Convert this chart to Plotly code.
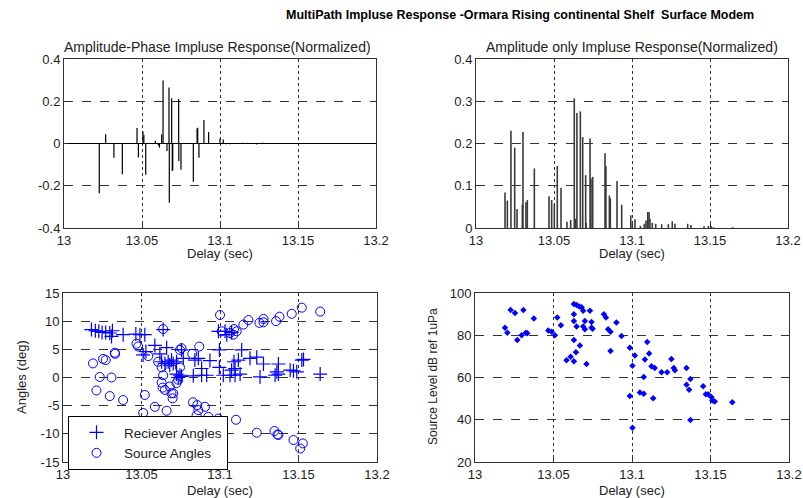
import plotly.graph_objects as go

# ---------------- data ----------------
ap_time = [13.0226, 13.0267, 13.0320, 13.0374, 13.0468, 13.0477, 13.0506, 13.0512, 13.0524,
           13.0585, 13.0605, 13.0612, 13.0626, 13.0635, 13.0660, 13.0673, 13.0675, 13.0690,
           13.0694, 13.0697, 13.0735, 13.0736, 13.0750, 13.0829, 13.0853, 13.0857, 13.0865,
           13.0897, 13.0927, 13.1000, 13.1021, 13.1040, 13.1064, 13.1145, 13.1175, 13.1235,
           13.1278, 13.1359, 13.1385, 13.1453]
ap_amp = [-0.235, 0.044, -0.068, -0.146, 0.073, -0.066, 0.057, 0.040, -0.148,
          0.013, -0.010, -0.020, 0.044, 0.298, -0.035, 0.265, -0.281, 0.214,
          -0.130, -0.125, 0.211, -0.083, -0.124, -0.181, 0.071, 0.074, -0.067,
          0.111, 0.054, 0.024, 0.019, -0.003, -0.004, 0.003, 0.003, -0.005,
          0.004, -0.002, 0.002, 0.002]

ao_time = [13.0186, 13.0201, 13.0224, 13.0248, 13.0263, 13.0297, 13.0301, 13.0320, 13.0329,
           13.0374, 13.0468, 13.0485, 13.0502, 13.0521, 13.0545, 13.0583, 13.0607, 13.0630,
           13.0639, 13.0647, 13.0669, 13.0684, 13.0703, 13.0706, 13.0731, 13.0737, 13.0748,
           13.0827, 13.0833, 13.0855, 13.0861, 13.0904, 13.0934, 13.0992, 13.1002, 13.1019,
           13.1054, 13.1079, 13.1090, 13.1101, 13.1109, 13.1115, 13.1130, 13.1152, 13.1190,
           13.1233, 13.1258, 13.1275, 13.1357, 13.1378, 13.1462, 13.1490, 13.1507, 13.1522,
           13.1645]
ao_amp = [0.084, 0.065, 0.230, 0.190, 0.045, 0.055, 0.227, 0.061, 0.066,
          0.141, 0.075, 0.066, 0.057, 0.147, 0.095, 0.015, 0.019, 0.307,
          0.022, 0.272, 0.276, 0.215, 0.125, 0.012, 0.212, 0.117, 0.121,
          0.177, 0.146, 0.077, 0.070, 0.111, 0.055, 0.030, 0.012, 0.021,
          0.005, 0.010, 0.018, 0.038, 0.038, 0.022, 0.012, 0.010, 0.009,
          0.009, 0.016, 0.010, 0.010, 0.007, 0.004, 0.005, 0.005, 0.002,
          0.002]

rx_time = [13.0181, 13.0206, 13.0228, 13.0249, 13.0272, 13.0298, 13.0315, 13.0309, 13.0383,
           13.0464, 13.0490, 13.0521, 13.0528, 13.0510, 13.0585, 13.0617, 13.0660, 13.0638,
           13.0755, 13.0766, 13.0628, 13.0649, 13.0670, 13.0691, 13.0702, 13.0680, 13.0723,
           13.0723, 13.0745, 13.0755, 13.0734, 13.0840, 13.0862, 13.0936, 13.0883, 13.0830,
           13.0883, 13.0915, 13.0996, 13.0996, 13.0990, 13.1032, 13.1043, 13.1074, 13.1021,
           13.1064, 13.1096, 13.1128, 13.1074, 13.1096, 13.1089, 13.1117, 13.1138, 13.1191,
           13.1234, 13.1277, 13.1255, 13.1372, 13.1362, 13.1372, 13.1351, 13.1447, 13.1468,
           13.1489, 13.1521, 13.1532, 13.1638]
rx_angle = [8.5, 8.3, 8.2, 8.0, 8.0, 7.9, 8.3, 7.3, 7.6,
            7.7, 7.6, 7.6, 4.6, 4.0, 5.7, 4.2, 5.3, 8.5,
            4.9, 3.4, 2.8, 2.5, 2.8, 3.1, 2.5, 2.2, 2.8,
            0.6, 0.4, 0.2, 0.0, 3.1, 3.4, 3.0, 1.6, 0.3,
            0.4, 0.4, 4.9, 1.8, 8.2, 8.2, 7.6, 8.0, 0.4,
            0.4, 0.4, 0.6, 1.3, 1.6, 2.8, 3.1, 4.9, 3.4,
            3.6, 2.4, 0.1, 2.4, 1.0, 0.6, 0.4, 1.3, 1.2,
            1.0, 3.1, 3.2, 0.6]

src_time = [13.0191, 13.0234, 13.0309, 13.0255, 13.0272, 13.0330, 13.0332, 13.0213, 13.0298,
            13.0383, 13.0468, 13.0479, 13.0543, 13.0521, 13.0511, 13.0585, 13.0638, 13.0660,
            13.0606, 13.0628, 13.0638, 13.0628, 13.0634, 13.0649, 13.0680, 13.0691, 13.0698,
            13.0702, 13.0723, 13.0734, 13.0745, 13.0755, 13.0745, 13.0823, 13.0868, 13.0828,
            13.0855, 13.0862, 13.0904, 13.0851, 13.0926, 13.0989, 13.1000, 13.1011, 13.1064,
            13.1085, 13.1089, 13.1106, 13.1149, 13.1181, 13.1251, 13.1277, 13.1277, 13.1357,
            13.1379, 13.1457, 13.1521, 13.1638, 13.1102, 13.1234, 13.1347, 13.1366, 13.1372,
            13.1468, 13.1528, 13.1511]
src_angle = [2.5, 0.1, 0.0, 3.3, 3.1, 4.4, 4.2, -2.3, -3.3,
             -4.0, 6.0, 5.5, 3.8, -3.1, -6.3, -5.2, 8.6, -5.9,
             2.8, 1.8, 0.4, -0.9, -1.8, -2.2, -1.6, -2.8, -3.7,
             -2.8, -1.0, -0.4, 1.8, 5.2, 4.9, 4.2, 5.5, -4.4,
             -4.9, -5.8, -5.2, -6.7, -7.0, -7.3, 11.1, 8.2, 7.9,
             7.6, 8.6, 8.2, 9.4, 10.2, 9.7, 10.4, 9.8, 10.0,
             10.8, 11.3, 12.4, 11.7, -7.5, -9.8, -9.5, -10.1, -10.2,
             -11.1, -11.7, -12.6]

sl_time = [13.0191, 13.0206, 13.0227, 13.0255, 13.0269, 13.0297, 13.0308, 13.0324, 13.0333,
           13.0375, 13.0467, 13.0488, 13.0509, 13.0524, 13.0547, 13.0583, 13.0609, 13.0630,
           13.0647, 13.0664, 13.0679, 13.0689, 13.0630, 13.0630, 13.0647, 13.0630, 13.0643,
           13.0630, 13.0668, 13.0689, 13.0700, 13.0700, 13.0710, 13.0732, 13.0742, 13.0742,
           13.0749, 13.0821, 13.0834, 13.0848, 13.0863, 13.0863, 13.0901, 13.0933, 13.0986,
           13.1003, 13.1018, 13.0986, 13.1003, 13.1050, 13.1075, 13.1075, 13.1082, 13.1097,
           13.1109, 13.1124, 13.1145, 13.1135, 13.1188, 13.1224, 13.1251, 13.1266, 13.1273,
           13.1347, 13.1347, 13.1364, 13.1372, 13.1372, 13.1453, 13.1470, 13.1485, 13.1506,
           13.1512, 13.1527, 13.1639]
sl_level = [83.6, 81.2, 92.0, 90.5, 77.7, 80.0, 92.0, 81.2, 80.9,
            87.9, 82.3, 81.6, 80.0, 88.4, 84.7, 68.2, 69.8, 94.8,
            94.3, 93.6, 93.2, 91.6, 90.0, 86.8, 84.1, 77.7, 72.0,
            67.7, 75.2, 84.1, 82.8, 86.8, 66.4, 91.6, 86.3, 83.6,
            83.1, 90.0, 88.4, 82.8, 81.6, 72.5, 86.0, 79.6, 74.1,
            65.6, 70.4, 51.3, 36.2, 52.9, 52.3, 60.2, 68.5, 76.8,
            71.4, 65.3, 64.5, 50.2, 62.5, 62.5, 68.8, 64.5, 63.4,
            64.5, 56.6, 54.2, 59.3, 39.9, 55.8, 52.1, 52.1, 50.7,
            49.1, 48.6, 48.3]

x_tick_vals = [13.0, 13.05, 13.1, 13.15, 13.2]
x_tick_text = ["13", "13.05", "13.1", "13.15", "13.2"]
ap_tick_vals = [-0.4, -0.2, 0, 0.2, 0.4]
ap_tick_text = ["-0.4", "-0.2", "0", "0.2", "0.4"]
ao_tick_vals = [0, 0.1, 0.2, 0.3, 0.4]
ao_tick_text = ["0", "0.1", "0.2", "0.3", "0.4"]
ang_tick_vals = [-15, -10, -5, 0, 5, 10, 15]
ang_tick_text = ["-15", "-10", "-5", "0", "5", "10", "15"]
sl_tick_vals = [20, 40, 60, 80, 100]
sl_tick_text = ["20", "40", "60", "80", "100"]

main_title = "MultiPath Impluse Response -Ormara Rising continental Shelf  Surface Modem"
ap_title = "Amplitude-Phase Impluse Response(Normalized)"
ao_title = "Amplitude only Impluse Response(Normalized)"


def stems(ts, vs):
    xs, ys = [], []
    for t, v in zip(ts, vs):
        xs += [t, t, None]
        ys += [0, v, None]
    return xs, ys


fig = go.Figure()

sx, sy = stems(ap_time, ap_amp)
fig.add_trace(go.Scatter(x=sx, y=sy, mode="lines", line=dict(color="black", width=1.2),
                         showlegend=False, xaxis="x", yaxis="y"))
sx, sy = stems(ao_time, ao_amp)
fig.add_trace(go.Scatter(x=sx, y=sy, mode="lines", line=dict(color="#3a3a3a", width=1.6),
                         showlegend=False, xaxis="x2", yaxis="y2"))

fig.add_trace(go.Scatter(x=rx_time, y=rx_angle, mode="markers", name="Reciever Angles",
                         marker=dict(symbol="cross-thin-open", size=10, color="blue",
                                     line=dict(color="blue", width=1.2)),
                         xaxis="x3", yaxis="y3"))
fig.add_trace(go.Scatter(x=src_time, y=src_angle, mode="markers", name="Source Angles",
                         marker=dict(symbol="circle-open", size=9, color="blue",
                                     line=dict(color="blue", width=1)),
                         xaxis="x3", yaxis="y3"))

fig.add_trace(go.Scatter(x=sl_time, y=sl_level, mode="markers", showlegend=False,
                         marker=dict(symbol="diamond", size=5, color="blue"),
                         xaxis="x4", yaxis="y4"))

tickfont = dict(family="Liberation Sans, Arial", size=13, color="#222")


def xax(domain, anchor):
    return dict(domain=domain, anchor=anchor, range=[13.0, 13.2], tickvals=x_tick_vals,
                ticktext=x_tick_text, showgrid=True, gridcolor="#333", griddash="dot",
                gridwidth=1, showline=True, linecolor="#333", linewidth=1, mirror=True,
                ticks="inside", ticklen=4, tickcolor="#333", zeroline=False, tickfont=tickfont,
                automargin=False)


def yax(domain, anchor, rng, tv, tt, zeroline=False):
    return dict(domain=domain, anchor=anchor, range=rng, tickvals=tv, ticktext=tt,
                showgrid=True, gridcolor="#333", griddash="dash", gridwidth=1,
                showline=True, linecolor="#333", linewidth=1, mirror=True,
                ticks="inside", ticklen=4, tickcolor="#333", zeroline=zeroline,
                zerolinecolor="black", zerolinewidth=1.3, tickfont=tickfont,
                automargin=False)


W, H = 803, 498
top = [1 - 228 / H, 1 - 59 / H]
bot = [1 - 462 / H, 1 - 293 / H]

fig.update_layout(
    width=W, height=H, margin=dict(l=0, r=0, t=0, b=0, autoexpand=False),
    paper_bgcolor="white", plot_bgcolor="white",
    xaxis=xax([64 / W, 376 / W], "y"),
    yaxis=yax(top, "x", [-0.4, 0.4], ap_tick_vals, ap_tick_text, zeroline=True),
    xaxis2=xax([476 / W, 788 / W], "y2"),
    yaxis2=yax(top, "x2", [0, 0.4], ao_tick_vals, ao_tick_text),
    xaxis3=xax([63 / W, 377 / W], "y3"),
    yaxis3=yax(bot, "x3", [-15, 15], ang_tick_vals, ang_tick_text),
    xaxis4=xax([475 / W, 789 / W], "y4"),
    yaxis4=yax(bot, "x4", [20, 100], sl_tick_vals, sl_tick_text),
    showlegend=True,
    legend=dict(x=68 / W, y=1 - 416 / H, xanchor="left", yanchor="top",
                bgcolor="white", bordercolor="black", borderwidth=1,
                font=dict(family="Liberation Sans, Arial", size=13.5, color="#222"),
                itemwidth=45, tracegroupgap=0),
)


def ann(text, xpx, ypx, size=13, angle=0, color="#222"):
    return dict(text=text, x=xpx / W, y=1 - ypx / H, xref="paper", yref="paper",
                xanchor="center", yanchor="middle", showarrow=False, textangle=angle,
                font=dict(family="Liberation Sans, Arial", size=size, color=color))


annotations = [
    ann("<b>" + main_title + "</b>", 520, 15, size=12.5, color="black"),
    ann(ap_title, 218, 47, size=14),
    ann(ao_title, 632, 47, size=14),
    ann("Delay (sec)", 220, 253),
    ann("Delay (sec)", 632, 253),
    ann("Delay (sec)", 220, 490),
    ann("Delay (sec)", 632, 490),
    ann("Angles (deg)", 21, 377, angle=-90),
    ann("Source Level dB ref 1uPa", 433, 377, size=12, angle=-90),
]
fig.update_layout(annotations=annotations)

fig.write_html("out.html")
